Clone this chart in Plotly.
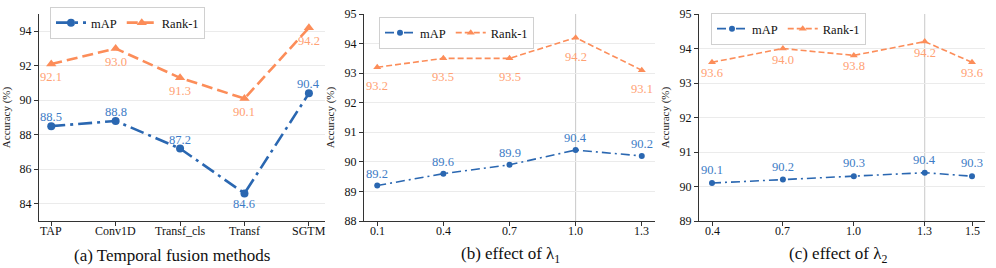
import plotly.graph_objects as go

# ---------------- data ----------------
methods = ["TAP", "Conv1D", "Transf_cls", "Transf", "SGTM"]
map_a = [88.5, 88.8, 87.2, 84.6, 90.4]
rank1_a = [92.1, 93.0, 91.3, 90.1, 94.2]

lambda1 = [0.1, 0.4, 0.7, 1.0, 1.3]
map_b = [89.2, 89.6, 89.9, 90.4, 90.2]
rank1_b = [93.2, 93.5, 93.5, 94.2, 93.1]

lambda2 = [0.4, 0.7, 1.0, 1.3, 1.5]
map_c = [90.1, 90.2, 90.3, 90.4, 90.3]
rank1_c = [93.6, 94.0, 93.8, 94.2, 93.6]

titles = ["(a) Temporal fusion methods", "(b) effect of λ<sub>1</sub>", "(c) effect of λ<sub>2</sub>"]
best_b = 1.0
best_c = 1.3

# ---------------- style ----------------
W, H = 996, 268
BLUE = "#2a67b1"
ORANGE = "#fc8d59"
BLUE_TXT = "#3d7cc6"
ORANGE_TXT = "#ffa173"
FONT = "Liberation Serif"
GRID = "#ebebeb"
AX = "#333333"
TICK_SIZE = 12

def px_x(a, b):
    return [a / W, b / W]

y_dom = [1 - 221 / H, 1 - 14 / H]
domains = [px_x(39, 325), px_x(364, 655), px_x(699, 985)]

fig = go.Figure()

# (xs, mAP, Rank-1, linewidth, marker size, mAP label shift, Rank-1 label shift)
panels = [
    (methods, map_a, rank1_a, 2.6, 9, 9, -13),
    (lambda1, map_b, rank1_b, 1.6, 7, 12, -19),
    (lambda2, map_c, rank1_c, 1.6, 7, 13, -11),
]
legend_names = ["legend", "legend2", "legend3"]

for i, (xs, m, r, lw, ms, sm, sr) in enumerate(panels):
    xa = "x" if i == 0 else f"x{i+1}"
    ya = "y" if i == 0 else f"y{i+1}"
    if i == 0:
        dash_m = "14px,5px,3px,5px"
        dash_r = "11px,5px"
    else:
        dash_m = "9px,4px,2px,4px"
        dash_r = "6px,3px"
    fig.add_trace(go.Scatter(
        x=xs, y=m, xaxis=xa, yaxis=ya, name="mAP", mode="lines+markers",
        line=dict(color=BLUE, width=lw, dash=dash_m),
        marker=dict(symbol="circle", size=ms - 1, color=BLUE),
        legend=legend_names[i], showlegend=True,
    ))
    fig.add_trace(go.Scatter(
        x=xs, y=r, xaxis=xa, yaxis=ya, name="Rank-1", mode="lines+markers",
        line=dict(color=ORANGE, width=lw, dash=dash_r),
        marker=dict(symbol="triangle-up", size=ms, color=ORANGE),
        legend=legend_names[i], showlegend=True,
    ))
    # value labels
    for xv, yv in zip(xs, m):
        below = (i == 0 and yv == min(m) and yv < 85)
        fig.add_annotation(x=xv, y=yv, xref=xa, yref=ya, text=f"{yv:.1f}",
                           showarrow=False, yshift=-11 if below else sm,
                           font=dict(family=FONT, size=12.5, color=BLUE_TXT))
    for xv, yv in zip(xs, r):
        fig.add_annotation(x=xv, y=yv, xref=xa, yref=ya, text=f"{yv:.1f}",
                           showarrow=False, yshift=sr,
                           font=dict(family=FONT, size=12.5, color=ORANGE_TXT))
    # x tick labels (placed close to the axis like the reference)
    for xv in xs:
        fig.add_annotation(x=xv, y=0, xref=xa, yref=f"{ya} domain",
                           text=xv if isinstance(xv, str) else f"{xv:.1f}",
                           showarrow=False, yanchor="middle", yshift=-10,
                           font=dict(family=FONT, size=TICK_SIZE, color="#111"))

axis_common = dict(
    showline=True, linecolor=AX, linewidth=1, ticks="outside", ticklen=4,
    tickcolor=AX, tickfont=dict(family=FONT, size=TICK_SIZE, color="#111"),
    zeroline=False, automargin=False,
)

fig.update_layout(
    xaxis=dict(domain=domains[0], anchor="y", type="category",
               range=[-0.19, 4.25], showgrid=False, showticklabels=False, **axis_common),
    xaxis2=dict(domain=domains[1], anchor="y2", tickvals=lambda1,
                range=[0.04, 1.36], showgrid=False, showticklabels=False, **axis_common),
    xaxis3=dict(domain=domains[2], anchor="y3", tickvals=lambda2,
                range=[0.345, 1.555], showgrid=False, showticklabels=False, **axis_common),
    yaxis=dict(domain=y_dom, anchor="x", range=[83, 95], tickvals=[84, 86, 88, 90, 92, 94],
               showgrid=True, gridcolor=GRID, gridwidth=1, **axis_common),
    yaxis2=dict(domain=y_dom, anchor="x2", range=[88, 95], dtick=1,
                showgrid=True, gridcolor=GRID, gridwidth=1, **axis_common),
    yaxis3=dict(domain=y_dom, anchor="x3", range=[89, 95], dtick=1,
                showgrid=True, gridcolor=GRID, gridwidth=1, **axis_common),
)
for k in ["yaxis", "yaxis2", "yaxis3"]:
    fig.layout[k].title = dict(text="Accuracy (%)", font=dict(family=FONT, size=11, color="#222"), standoff=7)

# vertical markers at best settings
fig.add_shape(type="line", xref="x2", yref="y2 domain", x0=best_b, x1=best_b, y0=0, y1=1,
              line=dict(color="#c8c8c8", width=1), layer="below")
fig.add_shape(type="line", xref="x3", yref="y3 domain", x0=best_c, x1=best_c, y0=0, y1=1,
              line=dict(color="#c8c8c8", width=1), layer="below")

# legends
leg_common = dict(orientation="h", bgcolor="white", bordercolor="#d0d0d0", borderwidth=1,
                  font=dict(family=FONT, size=12.5, color="#111"), itemwidth=30,
                  xanchor="left", yanchor="top", tracegroupgap=0)
fig.update_layout(
    legend=dict(x=50 / W, y=1 - 7 / H, **leg_common),
    legend2=dict(x=379 / W, y=1 - 17 / H, **leg_common),
    legend3=dict(x=711 / W, y=1 - 13 / H, **leg_common),
)

# panel captions
centers = [172, 510, 838]
for c, t in zip(centers, titles):
    fig.add_annotation(x=c / W, y=1 - 255 / H, xref="paper", yref="paper", text=t,
                       showarrow=False, xanchor="center", yanchor="middle",
                       font=dict(family=FONT, size=17, color="#111"))

fig.update_layout(width=W, height=H, margin=dict(l=0, r=0, t=0, b=0, autoexpand=False),
                  font=dict(family=FONT),
                  paper_bgcolor="white", plot_bgcolor="white", showlegend=True)

fig.write_html("out.html", config={"displayModeBar": False},
               post_script="document.body.style.margin='0';document.body.style.padding='0';")
